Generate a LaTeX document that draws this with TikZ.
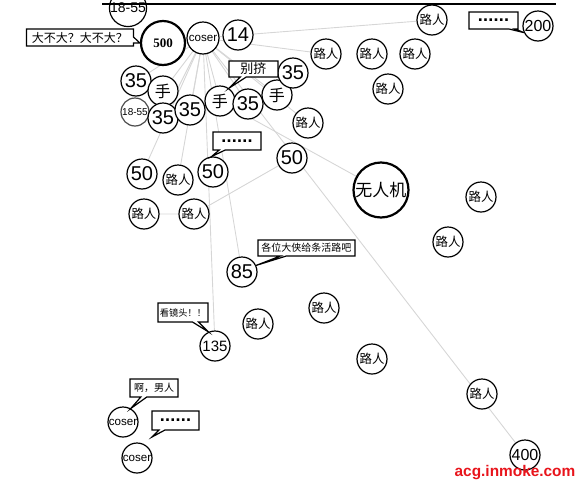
\documentclass[tikz,border=0pt]{standalone}
\usepackage{fontspec}
\setmainfont{Liberation Sans}
\newfontfamily\cjk{Noto Sans CJK SC}
\newfontfamily\numserif{Liberation Serif}
\usetikzlibrary{shapes.callouts,backgrounds}
\definecolor{faint}{HTML}{D6D6D6}
\definecolor{mark}{HTML}{E8141B}
\newcommand{\sixdots}{{\rmfamily\bfseries\fontsize{9}{9}\selectfont .\kern0.1pt.\kern0.1pt.\kern0.1pt.\kern0.1pt.\kern0.1pt.}}
\tikzset{
  circ/.style={circle,draw=black,line width=0.6pt,fill=white,minimum size=15pt,
    inner sep=0pt,font=\fontsize{10}{10}\selectfont},
  circ_big/.style={circ,line width=1.1pt},
  ren/.style={circ,font=\cjk\fontsize{6.2}{6.2}\selectfont},
  hand/.style={circ,font=\cjk\fontsize{8}{8}\selectfont},
  cosr/.style={circ,minimum size=16pt,font=\fontsize{5.8}{5.8}\selectfont},
  bubble/.style={rectangle callout,draw=black,line width=0.6pt,fill=white,
    inner sep=1pt,callout pointer width=3pt,font=\cjk\fontsize{5.5}{5.5}\selectfont},
  ln/.style={draw=faint,line width=0.45pt},
}
\begin{document}
\begin{tikzpicture}[x=0.5pt,y=-0.5pt]
  \useasboundingbox (0,0) rectangle (580,483);
  % top row
  \node[circ,minimum size=18pt,font=\fontsize{7}{7}\selectfont] (age1) at (128,8) {18-55};
  \node[circ_big,minimum size=22pt,font=\numserif\bfseries\fontsize{6.5}{6.5}\selectfont] (n500) at (163,43) {500};
  \node[cosr] (cos1) at (203,38) {coser};
  \node[circ] (n14) at (238,35) {14};
  \node[bubble,minimum width=53.5pt,minimum height=8.5pt,font=\cjk\fontsize{6}{6}\selectfont,
    callout absolute pointer={(n500.west)}] (b0) at (80,37.5) {大不大？大不大？};
  % hands and fans
  \node[circ] (s1) at (136,81) {35};
  \node[hand] (h1) at (163,91) {手};
  \node[circ,minimum size=14pt,draw=black!70,font=\fontsize{5}{5}\selectfont] (age2) at (135,112) {18-55};
  \node[circ] (s2) at (163,118) {35};
  \node[circ] (s3) at (190,110) {35};
  \node[hand] (h2) at (220,101) {手};
  \node[circ] (s4) at (248,104) {35};
  \node[hand] (h3) at (277,95) {手};
  \node[circ] (s5) at (293,73) {35};
  \node[bubble,minimum width=24.5pt,minimum height=8pt,font=\cjk\fontsize{6.5}{6.5}\selectfont,
    callout absolute pointer={(h2.55)}] (b1) at (253.5,69) {别挤};
  % passers-by
  \node[ren] (p1) at (432,20) {路人};
  \node[ren] (p2) at (326,54) {路人};
  \node[ren] (p3) at (372,54) {路人};
  \node[ren] (p4) at (415,54) {路人};
  \node[ren] (p5) at (388,89) {路人};
  \node[ren] (p6) at (308,123) {路人};
  \node[circ,font=\fontsize{8}{8}\selectfont] (n200) at (538,26) {200};
  \node[bubble,minimum width=24.5pt,minimum height=8.5pt,
    callout absolute pointer={(n200.205)}] (b2) at (493.5,20.5) {\sixdots};
  % middle
  \node[circ] (f1) at (142,174) {50};
  \node[ren] (p7) at (178,180) {路人};
  \node[circ] (f2) at (213,172) {50};
  \node[bubble,minimum width=24pt,minimum height=9pt,
    callout absolute pointer={(f2.95)}] (b3) at (237,141) {\sixdots};
  \node[circ] (f3) at (292,158) {50};
  \node[ren] (p8) at (144,214) {路人};
  \node[ren] (p9) at (194,214) {路人};
  \node[circ_big,minimum size=27.5pt,font=\cjk\fontsize{8.5}{8.5}\selectfont] (drone) at (381,190) {无人机};
  \node[ren] (p10) at (481,197) {路人};
  \node[ren] (p11) at (448,242) {路人};
  \node[circ] (n85) at (242,272) {85};
  \node[bubble,minimum width=48.5pt,minimum height=8pt,font=\cjk\fontsize{5}{5}\selectfont,
    callout absolute pointer={(n85.25)}] (b4) at (306.5,248) {各位大侠给条活路吧};
  \node[circ,font=\fontsize{7.5}{7.5}\selectfont] (n135) at (215,346) {135};
  \node[bubble,minimum width=25pt,minimum height=9.5pt,font=\cjk\fontsize{4.6}{4.6}\selectfont,
    callout absolute pointer={(n135.115)}] (b5) at (183,312.5) {看镜头！！};
  \node[ren] (p12) at (258,324) {路人};
  \node[ren] (p13) at (324,308) {路人};
  \node[ren] (p14) at (372,359) {路人};
  \node[ren] (p15) at (482,394) {路人};
  \node[circ,font=\fontsize{8}{8}\selectfont] (n400) at (525,455) {400};
  % bottom left
  \node[cosr,minimum size=15pt] (cos2) at (123,422) {coser};
  \node[cosr,minimum size=15pt] (cos3) at (137,458) {coser};
  \node[bubble,minimum width=24pt,minimum height=9pt,font=\cjk\fontsize{5}{5}\selectfont,
    callout absolute pointer={(cos2.60)}] (b6) at (154,388) {啊，男人};
  \coordinate (t7) at (152,437);
  \node[bubble,minimum width=23.5pt,minimum height=9.5pt,
    callout absolute pointer={(t7)}] (b7) at (175.5,420.5) {\sixdots};
  % top rule and mark
  \coordinate (tl) at (102,4); \coordinate (tr) at (556,4);
  \draw[line width=0.9pt] (tl) -- (tr);
  \node[font=\bfseries\fontsize{7.7}{7.7}\selectfont,text=mark,inner sep=0pt] (wm) at (515,473) {acg.inmoke.com};
  \begin{scope}[on background layer]
    \foreach \t in {s1,h1,s2,s3,h2,s4,h3,p6,f1,p7,n135,n85,n400,p1,p2}
      \draw[ln] (cos1) -- (\t);
    \draw[ln] (h2) -- (drone);
    \draw[ln] (p8) -- (p9) -- (f3);
  \end{scope}
\end{tikzpicture}
\end{document}
